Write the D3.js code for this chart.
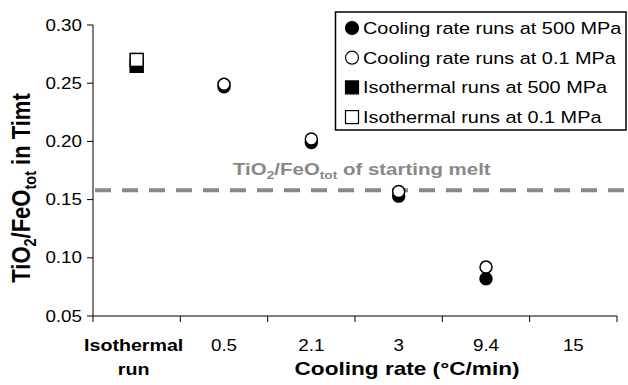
<!DOCTYPE html>
<html>
<head>
<meta charset="utf-8">
<script src="https://cdn.jsdelivr.net/npm/d3@7"></script>
<style>
    body { margin: 0; background: #fff; }
    svg { display: block; font-family: "Liberation Sans", Arial, sans-serif; }
</style>
</head>
<body>
<svg id="chart" width="628" height="385"></svg>
<script>
// categories on the x axis (first one is the isothermal run)
const categories = ["Isothermal run", "0.5", "2.1", "3", "9.4", "15"];
const tickLabels = [["Isothermal", "run"], ["0.5"], ["2.1"], ["3"], ["9.4"], ["15"]];

// TiO2/FeOtot in Timt, one value per category (null = no run)
const cooling500 = [null, 0.247, 0.199, 0.153, 0.082, null];
const cooling01  = [null, 0.249, 0.202, 0.157, 0.092, null];
const iso500     = [0.265, null, null, null, null, null];
const iso01      = [0.270, null, null, null, null, null];

const startingMelt = 0.158;
const yTicks = [0.05, 0.10, 0.15, 0.20, 0.25, 0.30];

const legendItems = [
    { label: "Cooling rate runs at 500 MPa", shape: "circle", fill: "#000" },
    { label: "Cooling rate runs at 0.1 MPa", shape: "circle", fill: "#fff" },
    { label: "Isothermal runs at 500 MPa", shape: "square", fill: "#000" },
    { label: "Isothermal runs at 0.1 MPa", shape: "square", fill: "#fff" }
];

const SX = 1.19; // the picture is a bit wider than tall, text too

const svg = d3.select("#chart");
const plot = { left: 93, right: 617, top: 25, bottom: 316 };

const x = d3.scaleBand().domain(categories).range([plot.left, plot.right]);
const y = d3.scaleLinear().domain([0.05, 0.30]).range([plot.bottom, plot.top]);

// text helper, stretched horizontally like the source picture
function label(g, px, py, anchor, size, weight, fill) {
    return g.append("text")
        .attr("transform", `translate(${px},${py}) scale(${SX},1)`)
        .attr("text-anchor", anchor)
        .style("font-size", size + "px")
        .style("font-weight", weight)
        .style("fill", fill || "#000");
}

// starting melt dashed line
svg.append("line")
    .attr("x1", plot.left + 2)
    .attr("x2", 625)
    .attr("y1", y(startingMelt))
    .attr("y2", y(startingMelt))
    .style("stroke", "#888")
    .style("stroke-width", 4)
    .style("stroke-dasharray", "16,11");

let meltLabel = label(svg, 233, 175, "start", 17.2, "bold", "#888");
meltLabel.append("tspan").text("TiO");
meltLabel.append("tspan").text("2").style("font-size", "11.5px").attr("dy", 4);
meltLabel.append("tspan").text("/FeO").attr("dy", -4);
meltLabel.append("tspan").text("tot").style("font-size", "11.5px").attr("dy", 4);
meltLabel.append("tspan").text(" of starting melt").attr("dy", -4);

// y axis
const yAxis = svg.append("g");
yAxis.append("line")
    .attr("x1", plot.left).attr("x2", plot.left)
    .attr("y1", plot.top).attr("y2", plot.bottom)
    .style("stroke", "#000");
yTicks.forEach(function (t) {
    yAxis.append("line")
        .attr("x1", plot.left - 6).attr("x2", plot.left)
        .attr("y1", y(t)).attr("y2", y(t))
        .style("stroke", "#000");
    label(yAxis, 82, y(t) + 5.5, "end", 15.8, "normal").text(d3.format(".2f")(t));
});

// x axis, ticks on category boundaries
const xAxis = svg.append("g");
xAxis.append("line")
    .attr("x1", plot.left).attr("x2", plot.right)
    .attr("y1", plot.bottom).attr("y2", plot.bottom)
    .style("stroke", "#000");
const bounds = categories.map((c) => x(c)).concat([plot.right]);
bounds.forEach(function (b) {
    xAxis.append("line")
        .attr("x1", b).attr("x2", b)
        .attr("y1", plot.bottom).attr("y2", plot.bottom + 6)
        .style("stroke", "#000");
});
categories.forEach(function (c, i) {
    let cx = x(c) + x.bandwidth() / 2;
    tickLabels[i].forEach(function (line, j) {
        label(xAxis, cx - (i === 0 ? 3 : 0), 351 + j * 24, "middle", i === 0 ? 16.5 : 15.8,
            i === 0 ? "bold" : "normal").text(line);
    });
});

label(svg, 407, 375, "middle", 19, "bold").text("Cooling rate (°C/min)");

// y title
let yTitle = svg.append("text")
    .attr("transform", `translate(30,188) scale(${SX},1) rotate(-90)`)
    .attr("text-anchor", "middle")
    .style("font-size", "22px")
    .style("font-weight", "bold");
yTitle.append("tspan").text("TiO");
yTitle.append("tspan").text("2").style("font-size", "14.5px").attr("dy", 5);
yTitle.append("tspan").text("/FeO").attr("dy", -5);
yTitle.append("tspan").text("tot").style("font-size", "14.5px").attr("dy", 5);
yTitle.append("tspan").text(" in Timt").attr("dy", -5);

// markers
function drawSeries(values, shape, fill) {
    let pts = values
        .map((v, i) => ({ c: categories[i], v: v }))
        .filter((d) => d.v !== null);
    let g = svg.append("g");
    if (shape === "circle") {
        g.selectAll("circle").data(pts).enter().append("circle")
            .attr("cx", (d) => x(d.c) + x.bandwidth() / 2)
            .attr("cy", (d) => y(d.v))
            .attr("r", 6)
            .style("fill", fill)
            .style("stroke", "#000")
            .style("stroke-width", 1.5);
    } else {
        g.selectAll("rect").data(pts).enter().append("rect")
            .attr("x", (d) => x(d.c) + x.bandwidth() / 2 - 6.5)
            .attr("y", (d) => y(d.v) - 6.5)
            .attr("width", 13)
            .attr("height", 13)
            .style("fill", fill)
            .style("stroke", "#000")
            .style("stroke-width", 1.5);
    }
}
drawSeries(cooling500, "circle", "#000");
drawSeries(cooling01, "circle", "#fff");
drawSeries(iso500, "square", "#000");
drawSeries(iso01, "square", "#fff");

// legend
const legend = svg.append("g");
legend.append("rect")
    .attr("x", 335.5).attr("y", 12)
    .attr("width", 290.5).attr("height", 118)
    .style("fill", "#fff")
    .style("stroke", "#000")
    .style("stroke-width", 1.5);
legendItems.forEach(function (d, i) {
    let ly = 28 + i * 29.7;
    if (d.shape === "circle") {
        legend.append("circle")
            .attr("cx", 352).attr("cy", ly).attr("r", 6.5)
            .style("fill", d.fill).style("stroke", "#000").style("stroke-width", 1.2);
    } else {
        legend.append("rect")
            .attr("x", 345.5).attr("y", ly - 6.5).attr("width", 13).attr("height", 13)
            .style("fill", d.fill).style("stroke", "#000").style("stroke-width", 1.2);
    }
    label(legend, 363, ly + 6, "start", 16.7, "normal").text(d.label);
});
</script>
</body>
</html>
